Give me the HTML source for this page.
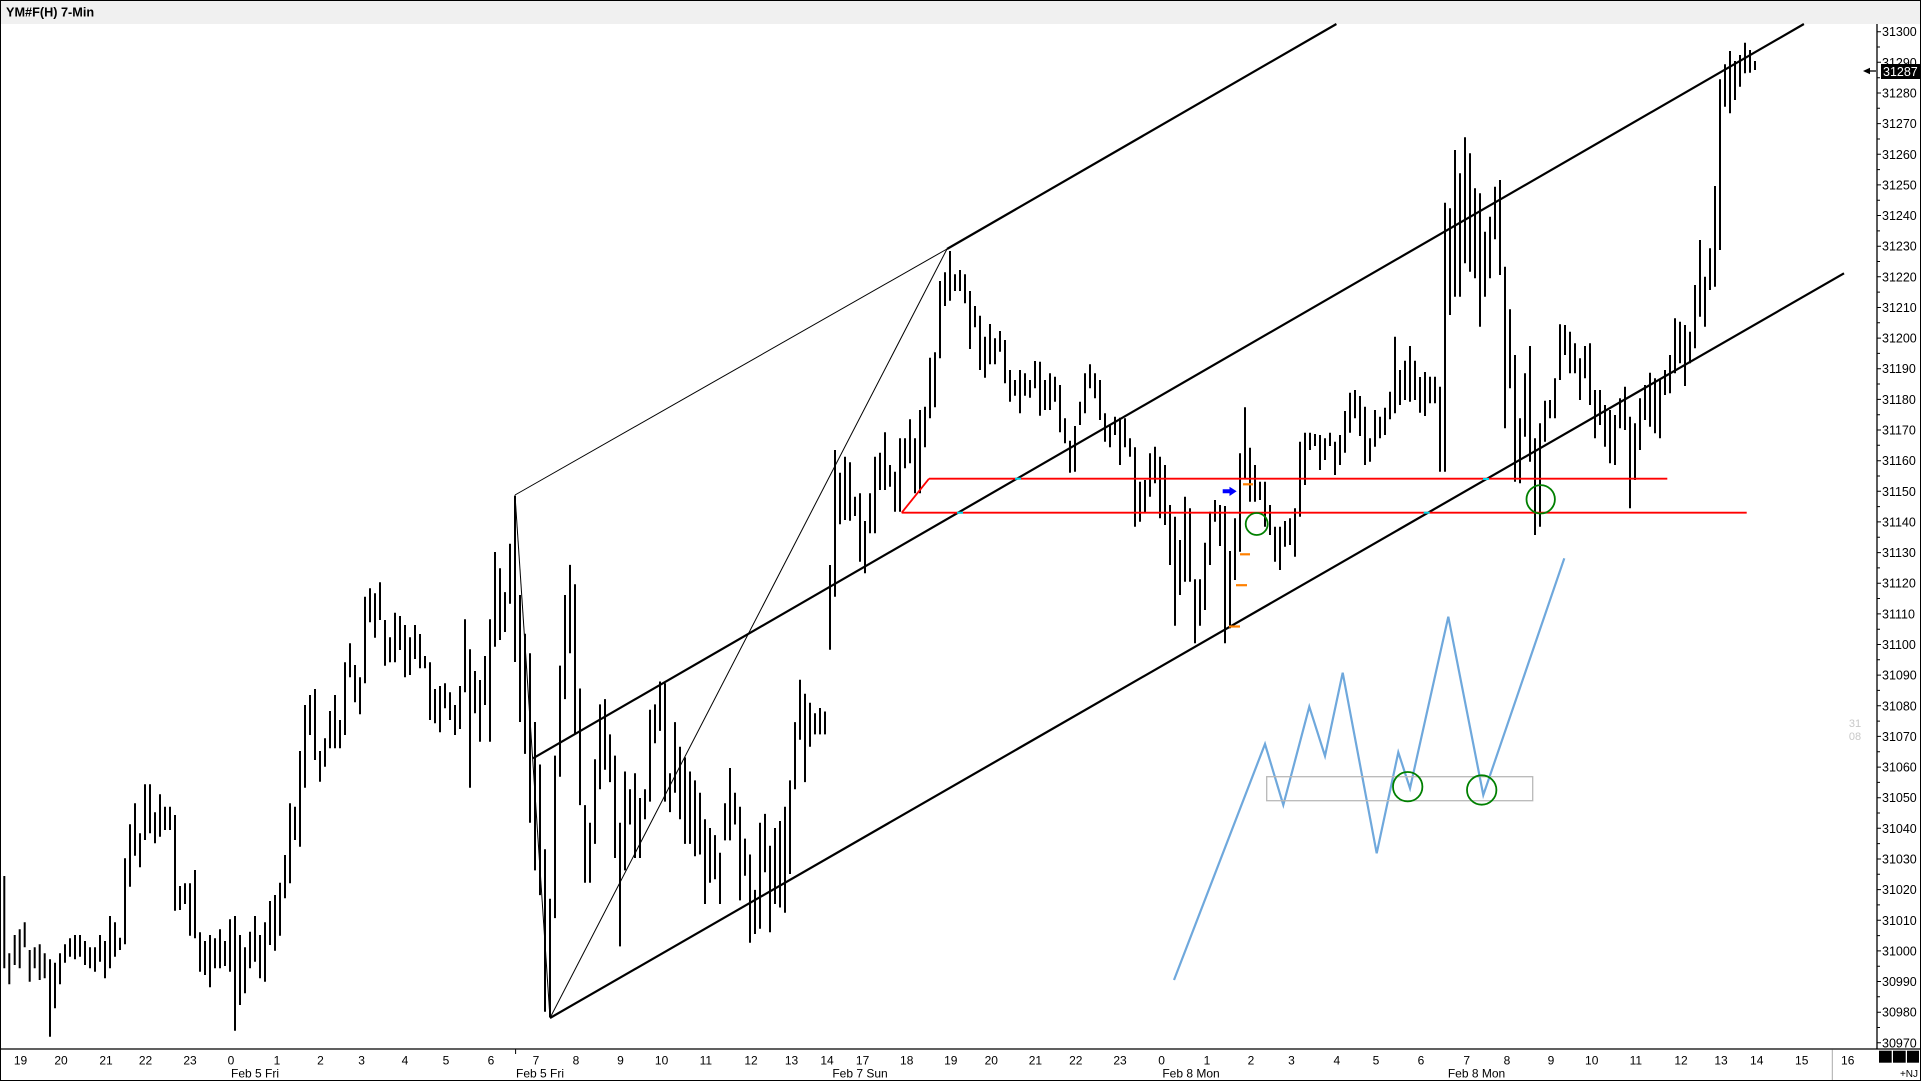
<!DOCTYPE html>
<html>
<head>
<meta charset="utf-8">
<style>
html,body{margin:0;padding:0;background:#fff;overflow:hidden;}
svg{display:block;}
text{font-family:"Liberation Sans",Arial,sans-serif;}
</style>
</head>
<body>
<svg width="1921" height="1081" viewBox="0 0 1921 1081" xmlns="http://www.w3.org/2000/svg">
<rect x="0" y="0" width="1921" height="1081" fill="#fff"/>
<!-- header -->
<rect x="0" y="0" width="1921" height="24" fill="#f0f0f0"/>
<text x="6" y="16.5" font-size="12.7" font-weight="bold" fill="#000">YM#F(H) 7-Min</text>

<!-- bars -->
<path fill="none" stroke="#000" stroke-width="2" d="
M4.3 876V968.3M9.3 953.3V984.3M14.7 935V965M19.7 929.3V968.3M24.7 922.3V947.3M29.7 950V981.7M34.7 947.3V968.3M39.7 944.3V980M44.7 953.3V978.3M50 959.3V1036.7
M55 962.7V1008.3M60 953.3V984.3M65 944.3V962.7M70 938.3V956.7M75 935V959.3M80 935V956.7M85 941V965M90 947.3V968.3M95 947.3V971.7M100 935V961.7
M105 941V978.3M110 916V968.3M115 922.3V956.7M120 937.7V950M125 858.3V944.3M130 824.3V886.7M135 803.3V855.7M140 833.3V867.3M145 784.3V840M150 784.3V833.3
M155 812.3V843.3M160 794.3V836.7M165 806.7V830M170 806.7V830M175 815V910.7M180 886V910M185 883.3V904M190 883.3V935.7M195 870V938.3M200 932.3V971.7
M205 941V975M210 935V987.3M215 938.3V968.3M220 929.3V968.3M225 941V966M230 919.3V971.7M235 916V1030.7M240 935V1005M245 947.3V993.3M250 931.7V968.3
M255 916V961.7M260 935V978.3M265 922.3V981.7M270 901V945M275 895V950.7M280 882.7V935.7M285 855V898.3M290 803.3V883.3M295 806.7V840M300 751V846.7
M305 705V787.7M310 695V735M315 689V760M320 751V781.7M325 738.3V766.7M330 711V748.3M335 695V748.3M340 720V748.3M345 662.3V735M350 643.3V677.3
M355 665V702.3M360 677.3V714.3M365 596.7V683.3M370 588.3V622.3M375 593.3V637.7M380 582.3V620M385 620V665.7M390 637.3V662.3M395 612.7V662.3M400 616V650
M405 625V677.3M410 637.3V675M415 625V659M420 634V668.3M425 656V668.3M430 662.3V720M435 689V723.3M440 686V732.3M445 683.3V708.3M450 692.3V720
M455 705V735M460 686V729M465 619.3V692.3M470 649.3V787.7M475 671V713.3M480 680V741.7M485 656V705M490 619.3V741.7M495 552V646.7M500 568.3V640
M505 592.1V632M510 543.7V603.8M515 496V662M520 595V722M525 633.8V753.9M530 653.2V822.7M535 722V870.4M540 764.5V895.1M545 849.2V1011.7M550 898.7V1017
M555 755.6V918.1M560 665.6V776.8M565 595V699.1M570 564.9V653.2M575 584.3V734.4M580 688.5V805.1M585 805.1V882.8M590 822.7V882.8M595 759.2V843.9M600 704.4V789.2
M605 699.1V769.8M610 734.4V782.1M615 755.6V858M620 822.7V946.4M625 771.5V870.4M630 789.2V824.5M635 773.3V858M640 798V858M645 789.2V819.2M650 709.7V801.6
M655 704.4V743.3M660 681.5V730.9M665 683.2V801.6M670 773.3V812.1M675 722.1V792.7M680 746.8V819.2M685 757.4V843.9M690 771.5V843.9M695 780.4V856.3M700 792.7V854.5
M705 819.2V904M710 828V882.8M715 835.1V879.3M720 852.8V904M725 803.3V840.4M730 768V840.4M735 792.7V824.5M740 806.8V900.4M745 838.6V875.7M750 854.5V942.8
M755 889.9V934M760 822.7V928.7M765 813.9V872.2M770 845.7V932.2M775 828V904M780 821V907.5M785 806.8V912.8M790 780.4V874M795 722.1V789.2M800 679.7V739.7
M805 693.8V782.1M810 702.7V746.8M815 713.2V734.4M820 708V734.4M825 711.5V734.4M830 565V649.7
M835 450V596.7M840 472.7V524.3M845 456.7V520M850 462.3V520.7M855 496.7V516M860 493.3V561.7M865 521V573.3M870 493.3V533.3M875 456.7V533.3M880 452.7V490
M885 432.3V490M890 465V486.7M895 471.7V511.7M900 438.3V511.7M905 438.3V468.3M910 419.3V463.3M915 438.3V493.3M920 410V493.3M925 406.7V447.3M930 357.7V418.3
M935 352.3V407.3M940 281V358.3M945 272.3V306M950 251V300.7M955 274.3V291M960 270V291M965 274.3V303.3M970 291V349M975 306V327.3M980 315.7V370
M985 336.7V377.7M990 324V364.3M995 338.3V364.3M1000 331V351.7M1005 340V383.3M1010 370V401.7M1015 380V395.7M1020 370V413.3M1025 373.3V395.7M1030 380V397.7
M1035 361V388.3M1040 361.7V415.7M1045 380V410M1050 373.3V410M1055 376.7V401.7M1060 385V432.3M1065 418.3V443.3M1070 440.7V472.7M1075 426V471.7M1080 401.7V425
M1085 373.3V413.3M1090 364.3V388.3M1095 373.3V398.3M1100 380V420M1105 413.3V441.7M1110 424.3V447.3M1115 416.7V435M1120 417.7V465M1125 418.3V447.3M1130 438.3V456.7
M1135 447.3V526.7
M1140 481.7V521.7M1145 480V513.3M1150 453.3V496.7M1155 446.7V483.3M1160 456.7V518.3M1165 465V525M1170 505V565M1175 516.7V625.7M1180 540V595M1185 496.7V581.7
M1190 508.3V581.7M1195 579.3V643.3M1200 579.3V625.7M1205 542.7V610M1210 511.7V565M1215 500V521.7M1220 505V546M1225 506V643.3M1230 551V628.3M1235 518.3V580
M1240 453.3V551.7M1245 407.3V478.3M1250 447.7V501.7M1255 465V501.7M1260 481.7V500M1265 481.7V526.7M1270 505V535M1275 526.7V561.7M1280 526.7V570M1285 521V546.7
M1290 518.3V545M1295 508.3V556.7M1300 441.7V516.7M1305 432.7V485M1310 432.7V450M1315 434V446M1320 435V470M1325 438.3V460M1330 432.7V446M1335 441.7V475
M1340 435V465M1345 411V452.7M1350 392.7V432.7M1355 390V418.3M1360 396V436M1365 406.7V465M1370 438.3V461.7M1375 410V446.7M1380 416.7V438.3M1385 407.7V435
M1390 391.7V419.3M1395 336.7V413.3M1400 370V405M1405 360.7V400M1410 346V401.7M1415 360.7V400M1420 377V412.7M1425 372V416
M1430 376.7V403.3M1435 376.7V403.3M1440 386.7V471.7M1445 202.7V471.7M1450 208.3V315M1455 150V296.7M1460 173.3V296.7M1465 137.3V263.3M1470 153.3V271.7M1475 188.3V278.3
M1480 193.3V326.7M1485 231.7V296.7M1490 216.7V278.3M1495 186.7V239.3M1500 180V275M1505 266.7V428.3M1510 309.3V388.3M1515 355V481.7M1520 418.3V483.3M1525 373.3V436.7
M1530 346V461.7M1535 438.3V535M1540 423.3V526.7M1545 400.7V441.7M1550 400V418.3M1555 378.3V418.3M1560 324.3V380M1565 325V355M1570 331.7V373.3M1575 343.3V373.3
M1580 358.3V400M1585 346V378.3M1590 343.3V405M1595 390V438.3M1600 390V425M1605 405V446.7M1610 410V463.3M1615 415V465M1620 398.3V428.3M1625 386.7V430
M1630 416.7V508.3M1635 423.3V480M1640 398.3V450M1645 385V420M1650 372.7V426.7M1655 378.3V433.3M1660 379.3V438.3M1665 370V395M1670 355V393.3M1675 318.3V373.3
M1680 321.7V363.3M1685 325V386M1690 331.7V363.3M1695 285V348.3M1700 240V316.7M1705 276.7V326.7M1710 248.3V290M1715 186V286.7M1720 79.3V250M1725 64.3V106.7
M1730 51V113.3M1735 61V100M1740 55V86.7M1745 42.7V73.3M1750 50V72.7M1755 61V70"/>

<!-- pitchfork thin lines -->
<g stroke="#000" stroke-width="1" fill="none">
<line x1="515" y1="495" x2="947" y2="249"/>
<line x1="550" y1="1018" x2="947" y2="249"/>
<line x1="515" y1="495" x2="550" y2="1018"/>
</g>
<!-- channel thick lines -->
<g stroke="#000" stroke-width="2.2" fill="none">
<line x1="947" y1="249" x2="1336.4" y2="24"/>
<line x1="533" y1="758.3" x2="1803.9" y2="24"/>
<line x1="550" y1="1018" x2="1844" y2="273.3"/>
</g>

<!-- red lines -->
<g stroke="#ff0000" stroke-width="1.8" fill="none">
<line x1="929" y1="478.7" x2="1667.3" y2="478.7"/>
<line x1="901.7" y1="512.7" x2="1746.7" y2="512.7"/>
<line x1="901.7" y1="512.7" x2="929" y2="478.7"/>
</g>
<!-- cyan intersections -->
<g stroke="#00d8e8" stroke-width="2" fill="none">
<line x1="1015" y1="478.7" x2="1021" y2="478.7"/>
<line x1="957" y1="512.7" x2="963" y2="512.7"/>
<line x1="1423.7" y1="512.7" x2="1429.7" y2="512.7"/>
<line x1="1483" y1="479" x2="1489" y2="479"/>
</g>

<!-- orange dashes -->
<g stroke="#ff8000" stroke-width="2.2" fill="none">
<line x1="1243" y1="484.3" x2="1253" y2="484.3"/>
<line x1="1240" y1="554.3" x2="1250" y2="554.3"/>
<line x1="1236" y1="585.2" x2="1247" y2="585.2"/>
<line x1="1229" y1="626.5" x2="1240" y2="626.5"/>
</g>
<!-- blue arrow -->
<path d="M1222.7 489.3H1229.5V486.7L1236.7 491.3L1229.5 496V493.3H1222.7Z" fill="#0000ff"/>

<!-- blue zigzag -->
<polyline fill="none" stroke="#6fa8dc" stroke-width="2.2" stroke-linejoin="miter" points="1174,980 1265,744 1283.3,805 1309.3,706.7 1325,756 1342.7,672.7 1376.7,853.3 1398.3,752.3 1410,788.3 1448.3,616.7 1483.3,795 1564.3,558.3"/>
<!-- gray rect -->
<rect x="1266.7" y="776.7" width="266" height="24" fill="none" stroke="#b8b8b8" stroke-width="1.3"/>

<!-- green circles -->
<g stroke="#008000" stroke-width="1.8" fill="none">
<circle cx="1256.7" cy="524" r="11"/>
<circle cx="1540.7" cy="499.3" r="14.2"/>
<circle cx="1407.7" cy="786.7" r="14.7"/>
<circle cx="1481.7" cy="790" r="14.7"/>
</g>

<!-- faint text -->
<text x="1855" y="727" font-size="11" fill="#c8c8c8" text-anchor="middle">31</text>
<text x="1855" y="740" font-size="11" fill="#c8c8c8" text-anchor="middle">08</text>

<!-- price axis -->
<line x1="1877" y1="24" x2="1877" y2="1049" stroke="#000" stroke-width="1.3"/>
<path stroke="#000" stroke-width="1" fill="none" d="
M1877 31.7h4M1877 47h3M1877 62.3h4M1877 77.7h3M1877 93h4M1877 108.3h3M1877 123.6h4M1877 139h3M1877 154.3h4M1877 169.6h3
M1877 184.9h4M1877 200.2h3M1877 215.5h4M1877 230.9h3M1877 246.2h4M1877 261.5h3M1877 276.8h4M1877 292.1h3M1877 307.5h4M1877 322.8h3
M1877 338.1h4M1877 353.4h3M1877 368.7h4M1877 384h3M1877 399.4h4M1877 414.7h3M1877 430h4M1877 445.3h3M1877 460.7h4M1877 476h3
M1877 491.3h4M1877 506.6h3M1877 521.9h4M1877 537.2h3M1877 552.6h4M1877 567.9h3M1877 583.2h4M1877 598.5h3M1877 613.9h4M1877 629.2h3
M1877 644.5h4M1877 659.8h3M1877 675.1h4M1877 690.4h3M1877 705.8h4M1877 721.1h3M1877 736.4h4M1877 751.7h3M1877 767.1h4M1877 782.4h3
M1877 797.7h4M1877 813h3M1877 828.3h4M1877 843.6h3M1877 859h4M1877 874.3h3M1877 889.6h4M1877 904.9h3M1877 920.3h4M1877 935.6h3
M1877 950.9h4M1877 966.2h3M1877 981.5h4M1877 996.8h3M1877 1012.2h4M1877 1027.5h3M1877 1042.8h4"/>
<g font-size="12.5" fill="#000">
<text x="1882" y="36.2">31300</text>
<text x="1882" y="66.8">31290</text>
<text x="1882" y="97.5">31280</text>
<text x="1882" y="128.1">31270</text>
<text x="1882" y="158.8">31260</text>
<text x="1882" y="189.4">31250</text>
<text x="1882" y="220">31240</text>
<text x="1882" y="250.7">31230</text>
<text x="1882" y="281.3">31220</text>
<text x="1882" y="312">31210</text>
<text x="1882" y="342.6">31200</text>
<text x="1882" y="373.2">31190</text>
<text x="1882" y="403.9">31180</text>
<text x="1882" y="434.5">31170</text>
<text x="1882" y="465.2">31160</text>
<text x="1882" y="495.8">31150</text>
<text x="1882" y="526.4">31140</text>
<text x="1882" y="557.1">31130</text>
<text x="1882" y="587.7">31120</text>
<text x="1882" y="618.4">31110</text>
<text x="1882" y="649">31100</text>
<text x="1882" y="679.6">31090</text>
<text x="1882" y="710.3">31080</text>
<text x="1882" y="740.9">31070</text>
<text x="1882" y="771.6">31060</text>
<text x="1882" y="802.2">31050</text>
<text x="1882" y="832.8">31040</text>
<text x="1882" y="863.5">31030</text>
<text x="1882" y="894.1">31020</text>
<text x="1882" y="924.8">31010</text>
<text x="1882" y="955.4">31000</text>
<text x="1882" y="986">30990</text>
<text x="1882" y="1016.7">30980</text>
<text x="1882" y="1047.3">30970</text>
</g>
<!-- last price marker -->
<rect x="1881" y="64" width="40" height="15" fill="#000"/>
<text x="1883" y="76" font-size="12.5" fill="#fff">31287</text>
<path d="M1863 71L1870 67.8V74.2Z" fill="#000"/>
<line x1="1868" y1="71" x2="1876" y2="71" stroke="#000" stroke-width="1.3"/>

<!-- time axis -->
<line x1="0" y1="1049" x2="1921" y2="1049" stroke="#000" stroke-width="1.3"/>
<line x1="515.6" y1="1049" x2="515.6" y2="1054" stroke="#000" stroke-width="1"/>
<line x1="1832.3" y1="1049.5" x2="1832.3" y2="1080" stroke="#aaaaaa" stroke-width="1"/>
<g font-size="12" fill="#000" text-anchor="middle">
<text x="20.5" y="1064.5">19</text>
<text x="61" y="1064.5">20</text>
<text x="106" y="1064.5">21</text>
<text x="145.5" y="1064.5">22</text>
<text x="190" y="1064.5">23</text>
<text x="231" y="1064.5">0</text>
<text x="277" y="1064.5">1</text>
<text x="320.5" y="1064.5">2</text>
<text x="361.6" y="1064.5">3</text>
<text x="405" y="1064.5">4</text>
<text x="446" y="1064.5">5</text>
<text x="491" y="1064.5">6</text>
<text x="536" y="1064.5">7</text>
<text x="576" y="1064.5">8</text>
<text x="620.5" y="1064.5">9</text>
<text x="661.6" y="1064.5">10</text>
<text x="705.8" y="1064.5">11</text>
<text x="751" y="1064.5">12</text>
<text x="791.5" y="1064.5">13</text>
<text x="827" y="1064.5">14</text>
<text x="862.6" y="1064.5">17</text>
<text x="906.7" y="1064.5">18</text>
<text x="950.8" y="1064.5">19</text>
<text x="991.3" y="1064.5">20</text>
<text x="1035.4" y="1064.5">21</text>
<text x="1075.8" y="1064.5">22</text>
<text x="1120" y="1064.5">23</text>
<text x="1161.6" y="1064.5">0</text>
<text x="1207" y="1064.5">1</text>
<text x="1251" y="1064.5">2</text>
<text x="1291.5" y="1064.5">3</text>
<text x="1336.8" y="1064.5">4</text>
<text x="1376" y="1064.5">5</text>
<text x="1421" y="1064.5">6</text>
<text x="1466.7" y="1064.5">7</text>
<text x="1507" y="1064.5">8</text>
<text x="1551" y="1064.5">9</text>
<text x="1591.7" y="1064.5">10</text>
<text x="1635.8" y="1064.5">11</text>
<text x="1681" y="1064.5">12</text>
<text x="1721" y="1064.5">13</text>
<text x="1756.7" y="1064.5">14</text>
<text x="1801.7" y="1064.5">15</text>
<text x="1847.7" y="1064.5">16</text>
<text x="255" y="1077.5">Feb 5 Fri</text>
<text x="540" y="1077.5">Feb 5 Fri</text>
<text x="860" y="1077.5">Feb 7 Sun</text>
<text x="1191" y="1077.5">Feb 8 Mon</text>
<text x="1476.5" y="1077.5">Feb 8 Mon</text>
</g>
<!-- bottom-right squares -->
<rect x="1879" y="1050.7" width="12.7" height="12" fill="#000"/>
<rect x="1893" y="1050.7" width="12.7" height="12" fill="#000"/>
<rect x="1907" y="1050.7" width="12" height="12" fill="#000"/>
<text x="1918" y="1077" font-size="10" fill="#000" text-anchor="end">+NJ</text>

<!-- border -->
<rect x="0.5" y="0.5" width="1920" height="1080" fill="none" stroke="#000" stroke-width="1"/>
</svg>
</body>
</html>
